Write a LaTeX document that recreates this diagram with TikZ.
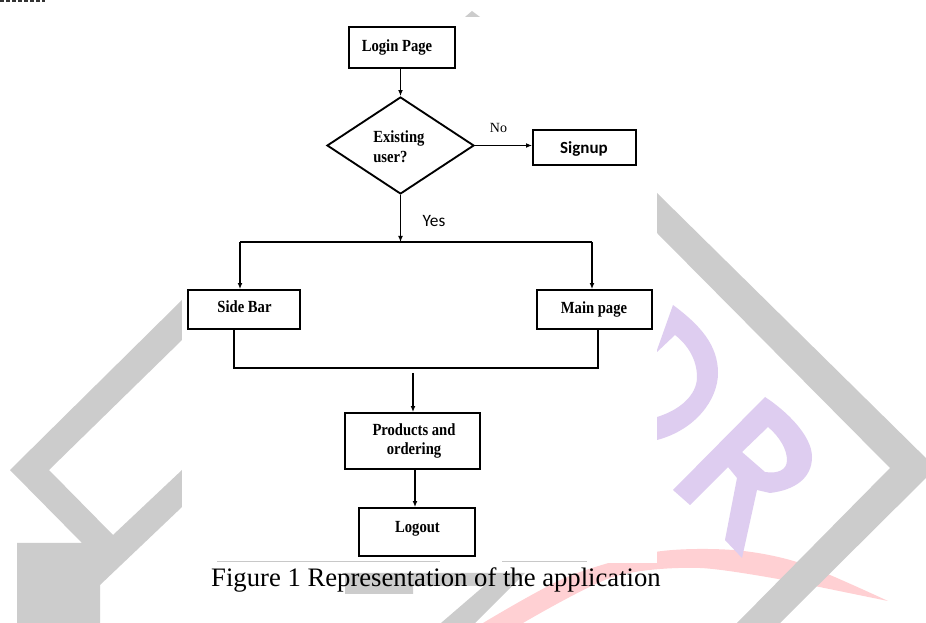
\documentclass[tikz,border=0pt]{standalone}
\usepackage{fontspec}
\setmainfont{Liberation Serif}
\newfontfamily\calib{Carlito}
\usepackage{graphicx}
\usetikzlibrary{shapes.geometric,arrows.meta}
\definecolor{wmgray}{RGB}{204,204,204}
\definecolor{wmpurple}{RGB}{222,205,240}
\definecolor{wmpink}{RGB}{255,208,211}
\definecolor{rulegray}{RGB}{200,200,200}
\newcommand{\nb}[1]{\scalebox{0.86}[1]{#1}}
\tikzset{
  box/.style={draw, line width=1.4pt, inner sep=0pt},
  lbl/.style={anchor=base, inner sep=0pt, font=\fontsize{12.75}{15}\selectfont\bfseries},
  conn/.style={line width=0.8pt, -{Latex[length=4.5pt,width=3.6pt]}},
  plain/.style={line width=0.8pt},
}
\begin{document}
\begin{tikzpicture}[x=0.75pt,y=-0.75pt]
\useasboundingbox (0,0) rectangle (926,623);
\fill[white] (0,0) rectangle (926,623);
% ---- watermark ----
\fill[wmpink] plot[smooth] coordinates {(483,623) (567,577) (655,552) (733,550) (800,563) (888,601)}
  -- plot[smooth] coordinates {(800,583) (700,568) (613,577) (523,623)} -- cycle;
\fill[wmgray] (182,300) -- (10,470) -- (82,543) -- (17,543) -- (17,623) -- (100,623) -- (100,585)
  -- (182,507) -- (182,470) -- (113,535) -- (49,470) -- (182,340) -- cycle;
\fill[wmgray] (657,193) -- (936,468) -- (780,623) -- (737,623) -- (890,468) -- (657,233) -- cycle;
\fill[wmgray] (345,573) -- (525,573) -- (475,623) -- (441,623) -- (484,586) -- (413,586) -- (413,594) -- (345,594) -- cycle;
\fill[wmpurple] (657,350) -- (673,305) .. controls (700,325) and (718,345) .. (718,373)
  .. controls (718,400) and (695,430) .. (657,440) -- (657,417)
  .. controls (680,410) and (697,395) .. (697,377) .. controls (697,360) and (688,345) .. (675,335)
  -- (657,352) -- cycle;
\fill[wmpurple, even odd rule] (673,490) -- (765,397) .. controls (785,410) and (812,435) .. (812,457)
  .. controls (812,478) and (795,490) .. (770,493) -- (757,490) -- (742,558) -- (725,540)
  -- (737,478) -- (728,467) -- (690,505) -- cycle
  (742,452) -- (768,427) .. controls (780,437) and (787,450) .. (787,460)
  .. controls (787,470) and (778,474) .. (765,472) -- cycle;
% white figure area
\fill[white] (182,0) rectangle (657,563);
\fill[wmgray] (472,11) -- (480,17) -- (465,17) -- cycle;
\draw[black!80, line width=1.5pt, dash pattern=on 3pt off 1.5pt] (0,1) -- (45,1);
\draw[rulegray, line width=0.75pt] (217,562) -- (440,562);
\draw[rulegray, line width=0.75pt] (502,562) -- (587,562);
% ---- boxes ----
\node[box, minimum width=79.5pt, minimum height=30.75pt] (login) at (402,47.5) {};
\node[draw, diamond, line width=1.4pt, minimum width=110.25pt, minimum height=72.75pt, inner sep=0pt] (dia) at (400.5,145.5) {};
\node[box, minimum width=77.25pt, minimum height=26.25pt] (signup) at (584.5,147.5) {};
\node[box, minimum width=84pt, minimum height=29.25pt] (sidebar) at (244,309.5) {};
\node[box, minimum width=86.25pt, minimum height=29.25pt] (mainpage) at (594.5,309.5) {};
\node[box, minimum width=101.25pt, minimum height=42pt] (products) at (412.5,441) {};
\node[box, minimum width=87pt, minimum height=36pt] (logout) at (417,532) {};
% ---- labels ----
\node[lbl] (tlogin) at (397,52) {\nb{Login Page}};
\node[lbl, anchor=base west] (texist) at (373,143) {\nb{Existing}};
\node[lbl, anchor=base west] (tuser) at (373,163) {\nb{user?}};
\node[anchor=base, inner sep=0pt, font=\fontsize{12.75}{15}\selectfont\calib\bfseries] (tsign) at (584,154) {Signup};
\node[anchor=base, inner sep=0pt, font=\fontsize{10.5}{12}\selectfont] (tno) at (498.5,133) {No};
\node[anchor=base, inner sep=0pt, font=\fontsize{13}{15}\selectfont\calib] (tyes) at (434,227) {Yes};
\node[lbl] (tside) at (244.5,312.7) {\nb{Side Bar}};
\node[lbl] (tmain) at (594,313.3) {\nb{Main page}};
\node[lbl] (tprod1) at (414,435.5) {\nb{Products and}};
\node[lbl] (tprod2) at (414,455) {\nb{ordering}};
\node[lbl] (tlogout) at (417.5,533) {\nb{Logout}};
\node[anchor=base, inner sep=0pt, font=\fontsize{20}{24}\selectfont] (cap) at (436,587) {Figure 1 Representation of the application};
% ---- connectors ----
\coordinate (split) at (400.5,242);
\coordinate (hl) at (240,242);
\coordinate (hr) at (592,242);
\coordinate (jl) at (234,368);
\coordinate (jr) at (598,368);
\coordinate (jm) at (413,373);
\coordinate (pl) at (415,490);
\draw[conn] (dia.north |- login.south) -- (dia.north);
\draw[conn] (dia.east) -- (dia.east -| signup.west);
\draw[conn] (dia.south) -- (split);
\draw[plain] (hl) -- (hr);
\draw[conn] (hl) -- (hl |- sidebar.north);
\draw[conn] (hr) -- (hr |- mainpage.north);
\draw[plain] (jl |- sidebar.south) -- (jl) -- (jr) -- (jr |- mainpage.south);
\draw[conn] (jm) -- (jm |- products.north);
\draw[conn] (pl |- products.south) -- (pl |- logout.north);
\end{tikzpicture}
\end{document}
